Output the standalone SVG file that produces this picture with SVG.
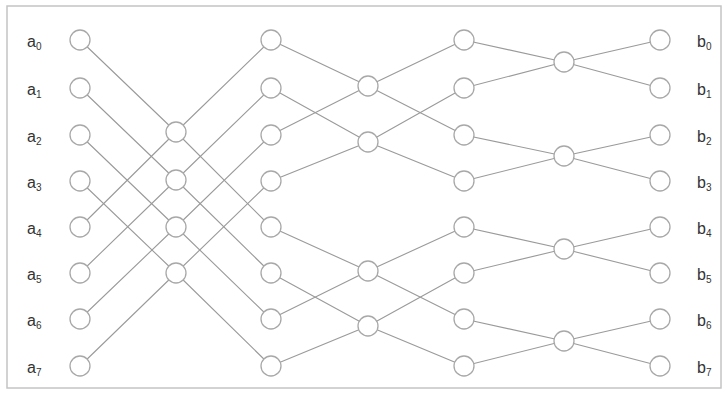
<svg xmlns="http://www.w3.org/2000/svg" width="727" height="396" viewBox="0 0 727 396">
<style>
.frame{fill:#fff;stroke:#c4c4c4;stroke-width:1.5}
.ln{fill:none;stroke:#9a9a9a;stroke-width:1.1}
.nd{fill:#fff;stroke:#a8a8a8;stroke-width:1.3}
.lb{font-family:"Liberation Sans",Arial,sans-serif;font-size:16px;fill:#333}
.sb{font-size:10px}
</style>
<rect class="frame" x="7" y="6" width="714" height="382"/>
<g id="connectors" class="ln">
<!-- stage 1 -->
<polyline points="80,40 176,132 271,227"/>
<polyline points="80,227 176,132 271,40"/>
<polyline points="80,88 176,180 271,273"/>
<polyline points="80,273 176,180 271,88"/>
<polyline points="80,135 176,227 271,319"/>
<polyline points="80,319 176,227 271,135"/>
<polyline points="80,181 176,273 271,366"/>
<polyline points="80,366 176,273 271,181"/>
<!-- stage 2 -->
<polyline points="271,40 368,86 464,135"/>
<polyline points="271,135 368,86 464,40"/>
<polyline points="271,88 368,142 464,181"/>
<polyline points="271,181 368,142 464,88"/>
<polyline points="271,227 368,271 464,319"/>
<polyline points="271,319 368,271 464,227"/>
<polyline points="271,273 368,326 464,366"/>
<polyline points="271,366 368,326 464,273"/>
<!-- stage 3 -->
<polyline points="464,40 564,62 660,88"/>
<polyline points="464,88 564,62 660,40"/>
<polyline points="464,135 564,156 660,181"/>
<polyline points="464,181 564,156 660,135"/>
<polyline points="464,227 564,249 660,273"/>
<polyline points="464,273 564,249 660,227"/>
<polyline points="464,319 564,341 660,366"/>
<polyline points="464,366 564,341 660,319"/>
</g>
<g id="col0">
<circle class="nd" cx="80" cy="40" r="10"/><circle class="nd" cx="80" cy="88" r="10"/>
<circle class="nd" cx="80" cy="135" r="10"/><circle class="nd" cx="80" cy="181" r="10"/>
<circle class="nd" cx="80" cy="227" r="10"/><circle class="nd" cx="80" cy="273" r="10"/>
<circle class="nd" cx="80" cy="319" r="10"/><circle class="nd" cx="80" cy="366" r="10"/>
</g>
<g id="col1">
<circle class="nd" cx="176" cy="132" r="10"/><circle class="nd" cx="176" cy="180" r="10"/>
<circle class="nd" cx="176" cy="227" r="10"/><circle class="nd" cx="176" cy="273" r="10"/>
</g>
<g id="col2">
<circle class="nd" cx="271" cy="40" r="10"/><circle class="nd" cx="271" cy="88" r="10"/>
<circle class="nd" cx="271" cy="135" r="10"/><circle class="nd" cx="271" cy="181" r="10"/>
<circle class="nd" cx="271" cy="227" r="10"/><circle class="nd" cx="271" cy="273" r="10"/>
<circle class="nd" cx="271" cy="319" r="10"/><circle class="nd" cx="271" cy="366" r="10"/>
</g>
<g id="col3">
<circle class="nd" cx="368" cy="86" r="10"/><circle class="nd" cx="368" cy="142" r="10"/>
<circle class="nd" cx="368" cy="271" r="10"/><circle class="nd" cx="368" cy="326" r="10"/>
</g>
<g id="col4">
<circle class="nd" cx="464" cy="40" r="10"/><circle class="nd" cx="464" cy="88" r="10"/>
<circle class="nd" cx="464" cy="135" r="10"/><circle class="nd" cx="464" cy="181" r="10"/>
<circle class="nd" cx="464" cy="227" r="10"/><circle class="nd" cx="464" cy="273" r="10"/>
<circle class="nd" cx="464" cy="319" r="10"/><circle class="nd" cx="464" cy="366" r="10"/>
</g>
<g id="col5">
<circle class="nd" cx="564" cy="62" r="10"/><circle class="nd" cx="564" cy="156" r="10"/>
<circle class="nd" cx="564" cy="249" r="10"/><circle class="nd" cx="564" cy="341" r="10"/>
</g>
<g id="col6">
<circle class="nd" cx="660" cy="40" r="10"/><circle class="nd" cx="660" cy="88" r="10"/>
<circle class="nd" cx="660" cy="135" r="10"/><circle class="nd" cx="660" cy="181" r="10"/>
<circle class="nd" cx="660" cy="227" r="10"/><circle class="nd" cx="660" cy="273" r="10"/>
<circle class="nd" cx="660" cy="319" r="10"/><circle class="nd" cx="660" cy="366" r="10"/>
</g>
<g id="labels-a" class="lb">
<text x="27" y="47">a<tspan class="sb" dy="3">0</tspan></text>
<text x="27" y="95">a<tspan class="sb" dy="3">1</tspan></text>
<text x="27" y="142">a<tspan class="sb" dy="3">2</tspan></text>
<text x="27" y="188">a<tspan class="sb" dy="3">3</tspan></text>
<text x="27" y="234">a<tspan class="sb" dy="3">4</tspan></text>
<text x="27" y="280">a<tspan class="sb" dy="3">5</tspan></text>
<text x="27" y="326">a<tspan class="sb" dy="3">6</tspan></text>
<text x="27" y="373">a<tspan class="sb" dy="3">7</tspan></text>
</g>
<g id="labels-b" class="lb">
<text x="697" y="47">b<tspan class="sb" dy="3">0</tspan></text>
<text x="697" y="95">b<tspan class="sb" dy="3">1</tspan></text>
<text x="697" y="142">b<tspan class="sb" dy="3">2</tspan></text>
<text x="697" y="188">b<tspan class="sb" dy="3">3</tspan></text>
<text x="697" y="234">b<tspan class="sb" dy="3">4</tspan></text>
<text x="697" y="280">b<tspan class="sb" dy="3">5</tspan></text>
<text x="697" y="326">b<tspan class="sb" dy="3">6</tspan></text>
<text x="697" y="373">b<tspan class="sb" dy="3">7</tspan></text>
</g>
</svg>
